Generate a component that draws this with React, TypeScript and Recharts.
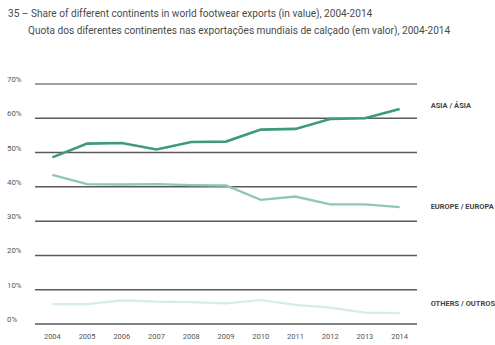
import React from "react";
import {
  LineChart,
  Line,
  XAxis,
  YAxis,
  CartesianGrid,
  ReferenceLine,
  LabelList,
} from "recharts";

const years = [2004, 2005, 2006, 2007, 2008, 2009, 2010, 2011, 2012, 2013, 2014];
const asia = [48.6, 52.6, 52.8, 50.9, 53.1, 53.2, 56.7, 56.9, 59.8, 60.0, 62.7];
const europe = [43.5, 40.8, 40.7, 40.8, 40.5, 40.4, 36.2, 37.2, 34.9, 34.9, 34.1];
const others = [5.8, 5.8, 6.9, 6.5, 6.4, 6.0, 7.0, 5.6, 4.8, 3.3, 3.2];
const yTicks = [0, 10, 20, 30, 40, 50, 60, 70];

const seriesLabels = {
  asia: "ASIA / ÁSIA",
  europe: "EUROPE / EUROPA",
  others: "OTHERS / OUTROS",
};

const data = years.map((year, i) => ({
  year,
  asia: asia[i],
  europe: europe[i],
  others: others[i],
}));

const FONT = "Roboto, 'Noto Sans', sans-serif";

// draws the series name to the right of the last point only
const endLabel = (text: string, dy: number) => (props: any) => {
  const { x, y, index } = props;
  if (index !== years.length - 1) return null;
  return (
    <text
      x={x + 31}
      y={y + dy}
      fill="#444"
      fontSize={7.5}
      fontWeight={700}
      fontFamily={FONT}
      dominantBaseline="middle"
    >
      {text}
    </text>
  );
};

export default function App() {
  return (
    <div
      style={{
        position: "absolute",
        left: 0,
        top: 0,
        width: 495,
        height: 345,
        background: "#fff",
        fontFamily: FONT,
      }}
    >
      <div style={{ position: "absolute", left: 8, top: 5, fontSize: 10.1, color: "#4a4a4a", lineHeight: "17px" }}>
        <div>35 – Share of different continents in world footwear exports (in value), 2004-2014</div>
        <div style={{ paddingLeft: 20 }}>
          Quota dos diferentes continentes nas exportações mundiais de calçado (em valor), 2004-2014
        </div>
      </div>
      <LineChart
        width={495}
        height={345}
        data={data}
        margin={{ top: 84, right: 78, left: 0, bottom: 3 }}
        style={{ position: "absolute", left: 0, top: 0 }}
      >
        <CartesianGrid vertical={false} stroke="#5a5a5a" strokeWidth={1.5} />
        <ReferenceLine y={70} stroke="#a8a8a8" strokeWidth={1.5} />
        <XAxis
          type="number"
          dataKey="year"
          domain={[2003.5, 2014.5]}
          ticks={years}
          axisLine={false}
          tickLine={false}
          tickSize={0}
          tickMargin={10}
          height={18}
          tick={{ fill: "#555", fontSize: 7.5, fontFamily: FONT }}
        />
        <YAxis
          domain={[0, 70]}
          ticks={yTicks}
          axisLine={false}
          tickLine={false}
          tickSize={0}
          tickMargin={0}
          width={35}
          tick={(props: any) => (
            <text
              x={7}
              y={props.y - 2}
              fill="#555"
              fontSize={7.8}
              fontFamily={FONT}
            >
              {`${props.payload.value}%`}
            </text>
          )}
        />
        <Line
          dataKey="others"
          stroke="#d6ece4"
          strokeWidth={2.2}
          dot={false}
          isAnimationActive={false}
        >
          <LabelList dataKey="others" content={endLabel(seriesLabels.others, -9)} />
        </Line>
        <Line
          dataKey="europe"
          stroke="#8fc8b0"
          strokeWidth={2.4}
          dot={false}
          isAnimationActive={false}
        >
          <LabelList dataKey="europe" content={endLabel(seriesLabels.europe, 0)} />
        </Line>
        <Line
          dataKey="asia"
          stroke="#3f9a78"
          strokeWidth={2.6}
          dot={false}
          isAnimationActive={false}
        >
          <LabelList dataKey="asia" content={endLabel(seriesLabels.asia, -3)} />
        </Line>
      </LineChart>
    </div>
  );
}
